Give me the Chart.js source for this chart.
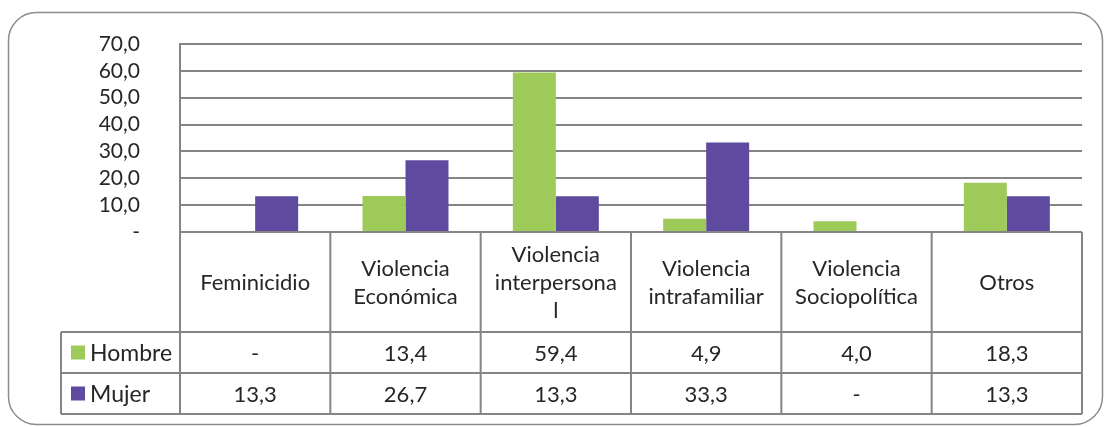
<!DOCTYPE html>
<html>
<head>
<meta charset="utf-8">
<script src="https://cdn.jsdelivr.net/npm/chart.js@4.4.0/dist/chart.umd.min.js"></script>
<style>
    body { margin: 0; background: #fff; }
    canvas { display: block; }
</style>
</head>
<body>
<canvas id="chart-violencia" width="1105" height="427"></canvas>
<script>
// categorias (partidas en lineas como en la tabla original)
var categorias = [
    ["Feminicidio"],
    ["Violencia", "Económica"],
    ["Violencia", "interpersona", "l"],
    ["Violencia", "intrafamiliar"],
    ["Violencia", "Sociopolítica"],
    ["Otros"]
];
var series = ["Hombre", "Mujer"];
var hombre = [0, 13.4, 59.4, 4.9, 4.0, 18.3];
var mujer = [13.3, 26.7, 13.3, 33.3, 0, 13.3];
var yTicks = [0, 10, 20, 30, 40, 50, 60, 70];

var colores = ['#9dca58', '#5e4a9e'];
var gris = '#858585';
var texto = '#262626';
var fuente = 'Lato, "Liberation Sans", sans-serif';

function fmt(v) {
    if (v === 0) return '-';
    return v.toFixed(1).replace('.', ',');
}

// tabla de datos bajo el grafico, con las columnas del eje x
var tablaDatos = {
    id: 'tablaDatos',
    afterDraw: function(chart) {
        var ctx = chart.ctx;
        var area = chart.chartArea;
        var n = categorias.length;
        var w = (area.right - area.left) / n;
        var top = area.bottom;
        var headBottom = top + 100;
        var row1 = headBottom + 41;
        var row2 = row1 + 41;
        var leftCol = 61;

        ctx.save();
        ctx.strokeStyle = gris;
        ctx.lineWidth = 2;
        ctx.beginPath();
        // lineas horizontales
        ctx.moveTo(area.left, top); ctx.lineTo(area.right, top);
        [headBottom, row1, row2].forEach(function(y) {
            ctx.moveTo(leftCol, y); ctx.lineTo(area.right, y);
        });
        // lineas verticales
        ctx.moveTo(area.left, area.top); ctx.lineTo(area.left, row2);
        ctx.moveTo(leftCol, headBottom); ctx.lineTo(leftCol, row2);
        for (var i = 1; i <= n; i++) {
            var x = area.left + i * w;
            ctx.moveTo(x, top); ctx.lineTo(x, row2);
        }
        ctx.stroke();

        ctx.fillStyle = texto;
        ctx.textAlign = 'center';
        ctx.textBaseline = 'middle';
        ctx.font = '22px ' + fuente;
        var xScale = chart.scales.x;
        categorias.forEach(function(lines, i) {
            var cx = xScale.getPixelForValue(i);
            var cy = (top + headBottom) / 2 + 1;
            var lh = 28;
            lines.forEach(function(t, k) {
                ctx.fillText(t, cx, cy + (k - (lines.length - 1) / 2) * lh);
            });
            ctx.fillText(fmt(hombre[i]), cx, (headBottom + row1) / 2 + 1);
            ctx.fillText(fmt(mujer[i]), cx, (row1 + row2) / 2 + 1);
        });

        // leyenda dentro de la tabla
        var filas = [(headBottom + row1) / 2, (row1 + row2) / 2];
        ctx.textAlign = 'left';
        ctx.font = '23px ' + fuente;
        series.forEach(function(s, k) {
            ctx.fillStyle = colores[k];
            ctx.fillRect(leftCol + 10, filas[k] - 7, 14, 14);
            ctx.fillStyle = texto;
            ctx.fillText(s, leftCol + 29, filas[k] + 1);
        });

        // marco redondeado
        ctx.strokeStyle = '#8c8c8c';
        ctx.lineWidth = 1.5;
        ctx.beginPath();
        ctx.roundRect(8.5, 12.5, 1094, 412, 28);
        ctx.stroke();
        ctx.restore();
    }
};

var ctxChart = document.getElementById('chart-violencia');
var chartViolencia = new Chart(ctxChart, {
    type: 'bar',
    data: {
        labels: categorias.map(function(c) { return c.join(''); }),
        datasets: [{
            label: series[0],
            data: hombre,
            backgroundColor: colores[0]
        }, {
            label: series[1],
            data: mujer,
            backgroundColor: colores[1]
        }]
    },
    options: {
        responsive: false,
        animation: false,
        layout: {
            padding: { left: 0, top: 44, right: 23, bottom: 195 }
        },
        datasets: {
            bar: { categoryPercentage: 0.572, barPercentage: 1 }
        },
        plugins: {
            legend: { display: false },
            tooltip: { enabled: false }
        },
        scales: {
            x: { display: false },
            y: {
                min: yTicks[0],
                max: yTicks[yTicks.length - 1],
                afterFit: function(scale) {
                    // v4 suma el padding de los ticks arriba y abajo
                    scale.width = 180;
                    scale.paddingTop = 0;
                    scale.paddingBottom = 0;
                },
                grid: { color: gris, lineWidth: 2, drawTicks: false },
                border: { display: true, color: gris, width: 2 },
                ticks: {
                    stepSize: yTicks[1] - yTicks[0],
                    autoSkip: false,
                    padding: 40,
                    color: texto,
                    font: { family: fuente, size: 21 },
                    callback: function(v) { return fmt(v); }
                }
            }
        }
    },
    plugins: [tablaDatos]
});
</script>
</body>
</html>
